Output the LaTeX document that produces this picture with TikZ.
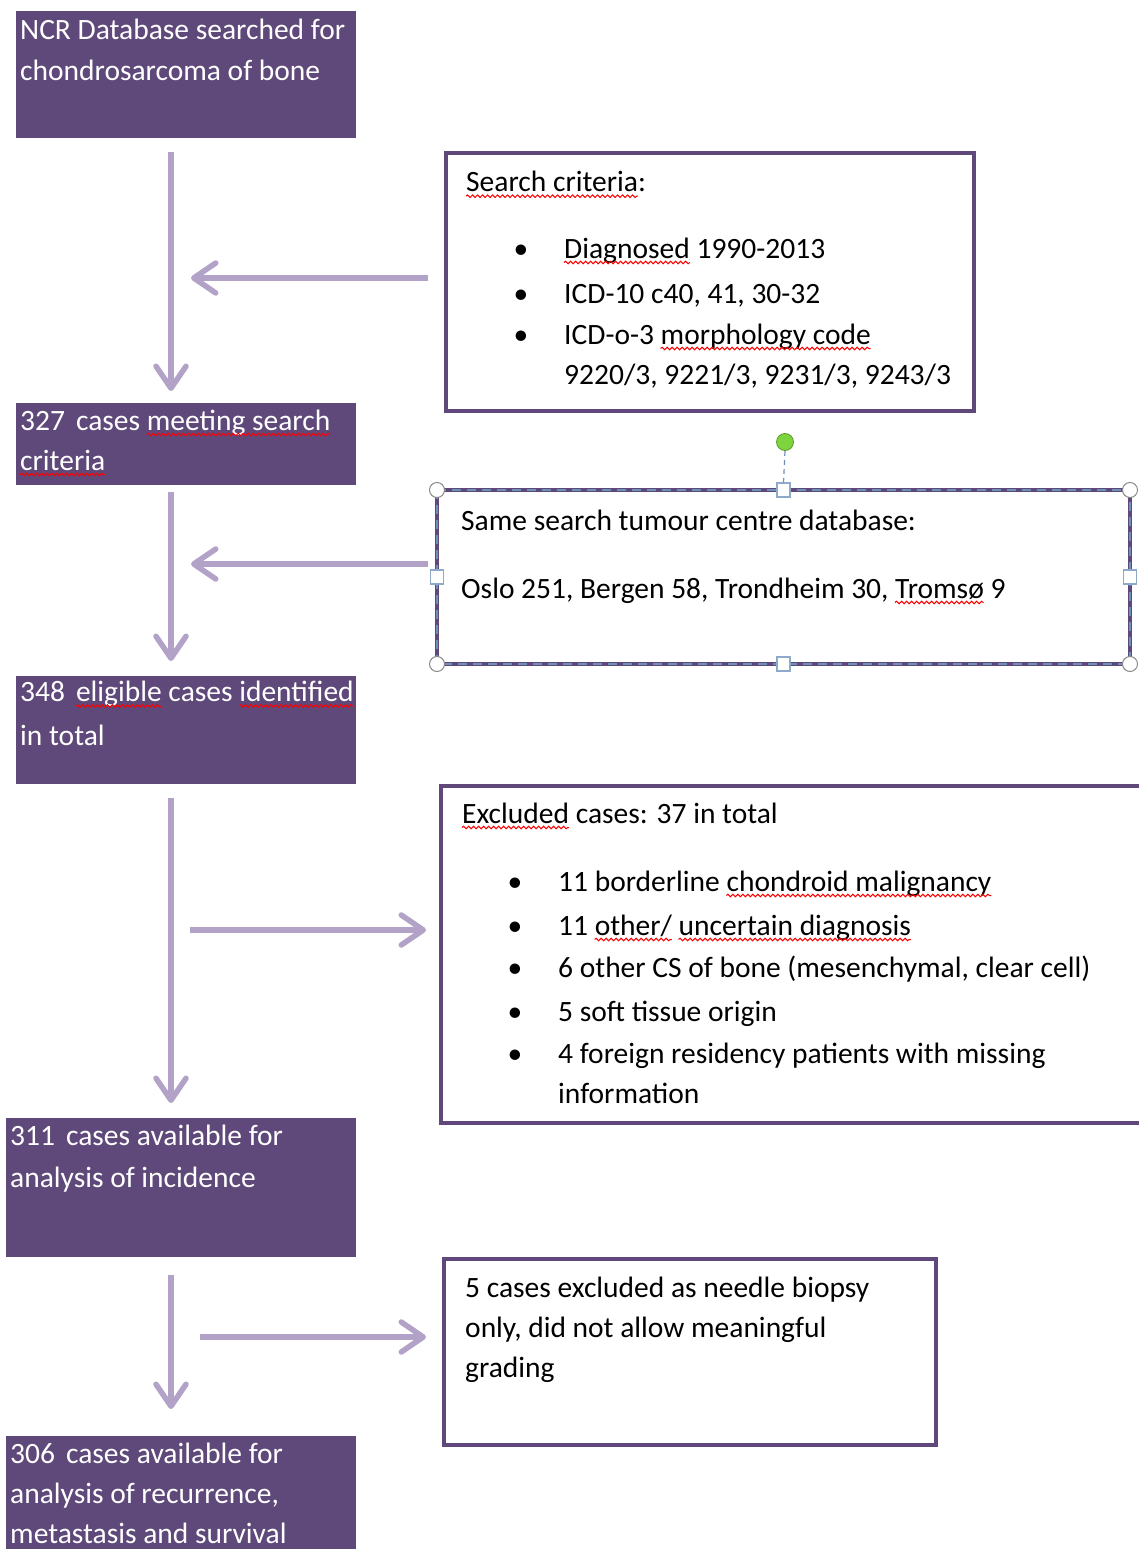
\documentclass[tikz,border=0pt]{standalone}
\usepackage{fontspec}
\setmainfont{Carlito}
\usetikzlibrary{arrows.meta,decorations.pathmorphing}
\definecolor{pfill}{HTML}{5F497A}
\definecolor{parrow}{HTML}{B3A2C7}
\definecolor{sqred}{HTML}{FF0000}
\definecolor{handleb}{HTML}{8EA9C9}
\definecolor{handleg}{HTML}{8A8A8A}
\definecolor{rotg}{HTML}{7ED43F}
\definecolor{rotd}{HTML}{5C9A2C}
\definecolor{selblue}{HTML}{6F8FB8}
\newcommand\boxfont{\fontsize{29.5pt}{41.5pt}\selectfont}
% measure: #1 name, #2 text before the marked words, #3 marked words
\newcommand\premeasure[3]{%
  \setbox0=\hbox{\boxfont #2}\expandafter\xdef\csname sqa#1\endcsname{\the\wd0}%
  \setbox0=\hbox{\boxfont #2#3}\expandafter\xdef\csname sqb#1\endcsname{\the\wd0}}
% draw: #1 name, #2 node
\newcommand\sqline[2]{%
  \draw[spellwave] ([xshift=\csname sqa#1\endcsname,yshift=-4.5pt]#2.base west) -- ([xshift=\csname sqb#1\endcsname,yshift=-4.5pt]#2.base west);}
\AtBeginDocument{%
  \premeasure{m1}{327\hspace{11pt}cases }{meeting search}%
  \premeasure{m2}{}{criteria}%
  \premeasure{m3}{348\hspace{11pt}}{eligible}%
  \premeasure{m4}{348\hspace{11pt}eligible cases }{identified}%
  \premeasure{m5}{}{Search criteria}%
  \premeasure{m6}{}{Diagnosed}%
  \premeasure{m7}{ICD-o-3 }{morphology code}%
  \premeasure{m8}{Oslo 251, Bergen 58, Trondheim 30, }{Tromsø}%
  \premeasure{m9}{}{Excluded}%
  \premeasure{m10}{11 borderline }{chondroid malignancy}%
  \premeasure{m11}{11 }{other/}%
  \premeasure{m12}{11 other/ }{uncertain diagnosis}%
}
\begin{document}
\begin{tikzpicture}[x=1pt,y=-1pt,
  pbox/.style={fill=pfill,draw=none,anchor=north west,inner sep=0pt,outer sep=0pt},
  wbox/.style={draw=pfill,line width=4pt,fill=white,anchor=north west,inner sep=0pt,outer sep=0pt},
  wtxt/.style={anchor=base west,inner sep=0pt,text=white,font=\boxfont},
  btxt/.style={anchor=base west,inner sep=0pt,text=black,font=\boxfont},
  bul/.style={anchor=base,inner sep=0pt,text=black,font=\boxfont},
  flow/.style={draw=parrow,line width=5.5pt,-{Straight Barb[length=22pt,width=30pt,round]}},
  spellwave/.style={draw=sqred,line width=1pt,decorate,decoration={snake,segment length=5pt,amplitude=1.3pt}},
  cornerh/.style={circle,draw=handleg,fill=white,line width=1pt,minimum size=15pt,inner sep=0pt},
  sideh/.style={rectangle,draw=handleb,fill=white,line width=1.2pt,minimum width=13pt,minimum height=14pt,inner sep=0pt},
  roth/.style={circle,draw=rotd,fill=rotg,line width=0.8pt,minimum size=17pt,inner sep=0pt},
]
\useasboundingbox (0,0) rectangle (1139,1549);
\fill[white] (0,0) rectangle (1139,1549);

% purple boxes
\node[pbox,minimum width=340pt,minimum height=127pt] (b1) at (16,11) {};
\node[pbox,minimum width=340pt,minimum height=82pt] (b2) at (16,403) {};
\node[pbox,minimum width=340pt,minimum height=108pt] (b3) at (16,676) {};
\node[pbox,minimum width=350pt,minimum height=139pt] (b4) at (6,1118) {};
\node[pbox,minimum width=350pt,minimum height=120pt] (b5) at (6,1436) {};

% white boxes
\node[wbox,minimum width=528pt,minimum height=258pt] (bA) at (446,153) {};
\node[wbox,minimum width=693pt,minimum height=174pt] (bB) at (437,490) {};
\node[wbox,minimum width=720pt,minimum height=337pt] (bC) at (441,786) {};
\node[wbox,minimum width=492pt,minimum height=186pt] (bD) at (444,1259) {};

% purple box texts
\node[wtxt] (t1a) at (20,39.5) {NCR Database searched for};
\node[wtxt] (t1b) at (20,81) {chondrosarcoma of bone};
\node[wtxt] (t2a) at (20,430) {327\hspace{11pt}cases meeting search};
\node[wtxt] (t2b) at (20,470) {criteria};
\node[wtxt] (t3a) at (20,701.5) {348\hspace{11pt}eligible cases identified};
\node[wtxt] (t3b) at (20,745) {in total};
\node[wtxt] (t4a) at (10,1145) {311\hspace{11pt}cases available for};
\node[wtxt] (t4b) at (10,1187) {analysis of incidence};
\node[wtxt] (t5a) at (10,1463) {306\hspace{11pt}cases available for};
\node[wtxt] (t5b) at (10,1503) {analysis of recurrence,};
\node[wtxt] (t5c) at (10,1543) {metastasis and survival};

% search criteria box
\node[btxt] (tA0) at (466,191.7) {Search criteria:};
\node[bul] (uA1) at (521,258) {•};
\node[btxt] (tA1) at (564,258) {Diagnosed 1990-2013};
\node[bul] (uA2) at (521,303) {•};
\node[btxt] (tA2) at (564,303) {ICD-10 c40, 41, 30-32};
\node[bul] (uA3) at (521,344) {•};
\node[btxt] (tA3) at (564,344) {ICD-o-3 morphology code};
\node[btxt] (tA4) at (564,384) {9220/3, 9221/3, 9231/3, 9243/3};

% tumour centre box
\node[btxt] (tB1) at (461,530) {Same search tumour centre database:};
\node[btxt] (tB2) at (461,598) {Oslo 251, Bergen 58, Trondheim 30, Tromsø 9};

% excluded box
\node[btxt] (tC0) at (462,823) {Excluded cases: 37 in total};
\node[bul] (uC1) at (515,891) {•};
\node[btxt] (tC1) at (558,891) {11 borderline chondroid malignancy};
\node[bul] (uC2) at (515,935) {•};
\node[btxt] (tC2) at (558,935) {11 other/ uncertain diagnosis};
\node[bul] (uC3) at (515,977) {•};
\node[btxt] (tC3) at (558,977) {6 other CS of bone (mesenchymal, clear cell)};
\node[bul] (uC4) at (515,1021) {•};
\node[btxt] (tC4) at (558,1021) {5 soft tissue origin};
\node[bul] (uC5) at (515,1063) {•};
\node[btxt] (tC5) at (558,1063) {4 foreign residency patients with missing};
\node[btxt] (tC6) at (558,1103) {information};

% needle biopsy box
\node[btxt] (tD1) at (465,1297) {5 cases excluded as needle biopsy};
\node[btxt] (tD2) at (465,1337) {only, did not allow meaningful};
\node[btxt] (tD3) at (465,1377) {grading};

% spell-check underlines
\sqline{m1}{t2a}
\sqline{m2}{t2b}
\sqline{m3}{t3a}
\sqline{m4}{t3a}
\sqline{m5}{tA0}
\sqline{m6}{tA1}
\sqline{m7}{tA3}
\sqline{m8}{tB2}
\sqline{m9}{tC0}
\sqline{m10}{tC1}
\sqline{m11}{tC2}
\sqline{m12}{tC2}

% selection decoration of box B
\draw[selblue,line width=1.2pt,dash pattern=on 9pt off 6pt] (bB.north west) rectangle (bB.south east);
\node[roth] (rot) at (785,442) {};
\node[sideh] (hT) at (bB.north) {};
\node[sideh] (hBm) at (bB.south) {};
\node[sideh] (hL) at (bB.west) {};
\node[sideh] (hR) at (bB.east) {};
\draw[selblue,line width=1.2pt,dash pattern=on 5pt off 4pt] (rot.south) -- (hT.north);
\node[cornerh] (cNW) at (bB.north west) {};
\node[cornerh] (cNE) at (bB.north east) {};
\node[cornerh] (cSW) at (bB.south west) {};
\node[cornerh] (cSE) at (bB.south east) {};

% arrows
\coordinate (v1s) at (171,152);  \coordinate (v1e) at (171,391);
\coordinate (h1s) at (428,278);  \coordinate (h1e) at (191,278);
\coordinate (v2s) at (171,492);  \coordinate (v2e) at (171,661);
\coordinate (h2s) at (428,564);  \coordinate (h2e) at (191,564);
\coordinate (v3s) at (171,798);  \coordinate (v3e) at (171,1103);
\coordinate (h3s) at (190,930);  \coordinate (h3e) at (426,930);
\coordinate (v4s) at (171,1275); \coordinate (v4e) at (171,1409);
\coordinate (h4s) at (200,1337); \coordinate (h4e) at (426,1337);
\draw[flow] (v1s) -- (v1e);
\draw[flow] (h1s) -- (h1e);
\draw[flow] (v2s) -- (v2e);
\draw[flow] (h2s) -- (h2e);
\draw[flow] (v3s) -- (v3e);
\draw[flow] (h3s) -- (h3e);
\draw[flow] (v4s) -- (v4e);
\draw[flow] (h4s) -- (h4e);
\end{tikzpicture}
\end{document}
